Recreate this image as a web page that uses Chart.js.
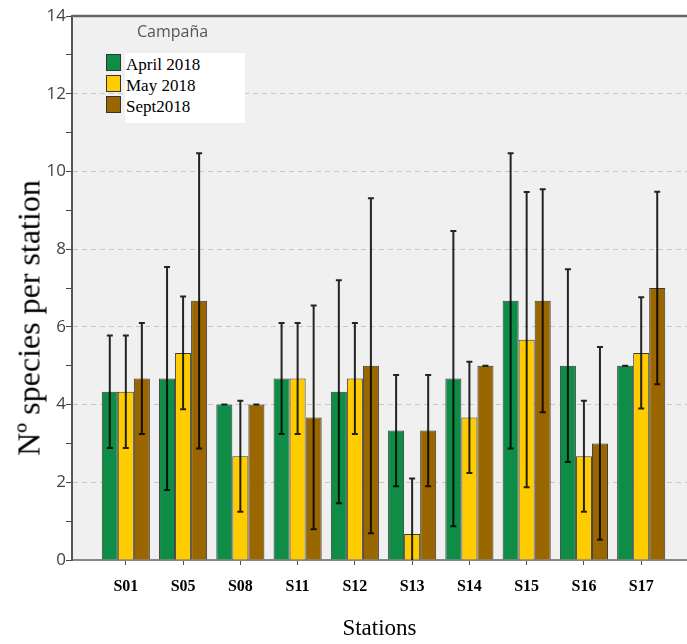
<!DOCTYPE html>
<html>
<head>
<meta charset="utf-8">
<script src="https://cdn.jsdelivr.net/npm/chart.js@4.4.1/dist/chart.umd.min.js"></script>
<style>
  body { margin: 0; background: #fff; }
  #wrap { position: relative; width: 687px; height: 644px; }
  #legendTitle { position: absolute; left: 137px; top: 20px; font: 16px "Open Sans", sans-serif; color: #555; }
  #legendBox { position: absolute; left: 125px; top: 53px; width: 120px; height: 70px; background: #fff; }
  .item { position: absolute; left: 106px; height: 21px; line-height: 21px; font: 17px "Liberation Serif", serif; color: #000; }
  .item span.sw { position: absolute; left: 0; top: 0; width: 13px; height: 15px; border: 1px solid #333; }
  .item span.tx { position: absolute; left: 20px; top: 0; white-space: nowrap; }
  #yTitle { position: absolute; left: 29px; top: 318px; transform: translate(-50%, -50%) rotate(-90deg);
            font: 32px "Liberation Serif", serif; color: #000; white-space: nowrap; }
</style>
</head>
<body>
<div id="wrap">
  <canvas id="speciesChart"></canvas>
  <div id="yTitle">Nº species per station</div>
  <div id="legendTitle">Campaña</div>
  <div id="legendBox"></div>
  <div id="legend"></div>
</div>
<script>
const stations = ['S01', 'S05', 'S08', 'S11', 'S12', 'S13', 'S14', 'S15', 'S16', 'S17'];
const seriesNames = ['April 2018', 'May 2018', 'Sept2018'];
const seriesColors = ['#0f8c46', '#ffcc00', '#996600'];

const april = [4.33, 4.67, 4.0, 4.67, 4.33, 3.33, 4.67, 6.67, 5.0, 5.0];
const aprilErr = [1.45, 2.87, 0, 1.43, 2.87, 1.43, 3.8, 3.8, 2.48, 0];
const may = [4.33, 5.33, 2.67, 4.67, 4.67, 0.67, 3.67, 5.67, 2.67, 5.33];
const mayErr = [1.45, 1.45, 1.43, 1.43, 1.43, 1.43, 1.43, 3.8, 1.43, 1.43];
const sept = [4.67, 6.67, 4.0, 3.67, 5.0, 3.33, 5.0, 6.67, 3.0, 7.0];
const septErr = [1.43, 3.8, 0, 2.88, 4.31, 1.43, 0, 2.87, 2.48, 2.48];

const yTicks = [0, 2, 4, 6, 8, 10, 12, 14];

const values = [april, may, sept];
const errors = [aprilErr, mayErr, septErr];

// grey plot background + dark top border
const plotBackground = {
    id: 'plotBackground',
    beforeDraw(chart) {
        const { ctx, chartArea: a } = chart;
        ctx.save();
        ctx.fillStyle = '#f0f0f0';
        ctx.fillRect(a.left, a.top, a.right - a.left, a.bottom - a.top);
        ctx.restore();
    },
    afterDraw(chart) {
        const { ctx, chartArea: a } = chart;
        ctx.save();
        ctx.strokeStyle = '#666';
        ctx.lineWidth = 2.5;
        ctx.beginPath();
        ctx.moveTo(a.left, a.top);
        ctx.lineTo(a.right, a.top);
        ctx.stroke();
        ctx.restore();
    }
};

// error bars on top of each bar
const errorBars = {
    id: 'errorBars',
    afterDatasetsDraw(chart) {
        const { ctx, chartArea: a } = chart;
        const yScale = chart.scales.y;
        ctx.save();
        ctx.beginPath();
        ctx.rect(a.left, a.top, a.right - a.left, a.bottom - a.top);
        ctx.clip();
        ctx.strokeStyle = 'rgba(0,0,0,0.85)';
        ctx.lineWidth = 2;
        chart.data.datasets.forEach((ds, di) => {
            const meta = chart.getDatasetMeta(di);
            meta.data.forEach((bar, i) => {
                const v = values[di][i];
                const e = errors[di][i];
                const yTop = yScale.getPixelForValue(v + e);
                const yBot = yScale.getPixelForValue(v - e);
                ctx.beginPath();
                ctx.moveTo(bar.x, yTop);
                ctx.lineTo(bar.x, yBot);
                ctx.moveTo(bar.x - 3, yTop);
                ctx.lineTo(bar.x + 3, yTop);
                ctx.moveTo(bar.x - 3, yBot);
                ctx.lineTo(bar.x + 3, yBot);
                ctx.stroke();
            });
        });
        ctx.restore();
    }
};

function buildLegend() {
    const box = document.getElementById('legend');
    seriesNames.forEach((name, i) => {
        const row = document.createElement('div');
        row.className = 'item';
        row.style.top = (55 + i * 21) + 'px';
        row.innerHTML = '<span class="sw" style="background:' + seriesColors[i] + ';top:-1px"></span><span class="tx">' + name + '</span>';
        box.appendChild(row);
    });
}

function createChart() {
    const ctx = document.getElementById('speciesChart').getContext('2d');
    new Chart(ctx, {
        type: 'bar',
        data: {
            datasets: seriesNames.map((name, di) => ({
                label: name,
                data: values[di].map((v, i) => ({ x: i + 1, y: v })),
                backgroundColor: seriesColors[di],
                borderColor: '#3a3a3a',
                borderWidth: 1,
                barPercentage: 1,
                categoryPercentage: 0.84
            }))
        },
        options: {
            responsive: true,
            maintainAspectRatio: false,
            animation: false,
            layout: { padding: { top: 16, left: 0, right: 0, bottom: 0 } },
            plugins: {
                legend: { display: false },
                tooltip: { enabled: false }
            },
            scales: {
                x: {
                    type: 'linear',
                    offset: false,
                    min: 0.06,
                    max: 10.8,
                    afterBuildTicks: scale => {
                        scale.ticks = stations.map((s, i) => ({ value: i + 1 }));
                    },
                    afterFit: scale => { scale.height = 84; },
                    ticks: {
                        callback: v => stations[v - 1],
                        font: { family: 'Liberation Serif', size: 16, weight: 'bold' },
                        color: '#000',
                        padding: 12,
                        maxRotation: 0,
                        autoSkip: false
                    },
                    grid: { offset: false, drawOnChartArea: false, drawTicks: true, tickLength: 5, color: '#555' },
                    border: { color: '#888', width: 2 },
                    title: {
                        display: true,
                        text: 'Stations',
                        font: { family: 'Liberation Serif', size: 23 },
                        color: '#000',
                        padding: { top: 0, bottom: 1 }
                    }
                },
                y: {
                    min: 0,
                    max: 14,
                    afterFit: scale => { scale.width = 72; },
                    ticks: {
                        stepSize: 1,
                        callback: v => yTicks.includes(v) ? v : '',
                        font: { family: 'Open Sans', size: 17 },
                        color: '#444',
                        padding: 0
                    },
                    grid: {
                        color: c => (c.tick && yTicks.includes(c.tick.value) && c.tick.value !== 0 && c.tick.value !== 14) ? '#c8c8c8' : 'rgba(0,0,0,0)',
                        tickColor: '#444',
                        tickLength: 6,
                        lineWidth: 1
                    },
                    border: { color: '#555', width: 2, dash: [5, 4] }
                }
            }
        },
        plugins: [plotBackground, errorBars]
    });
}

buildLegend();
createChart();
</script>
</body>
</html>
